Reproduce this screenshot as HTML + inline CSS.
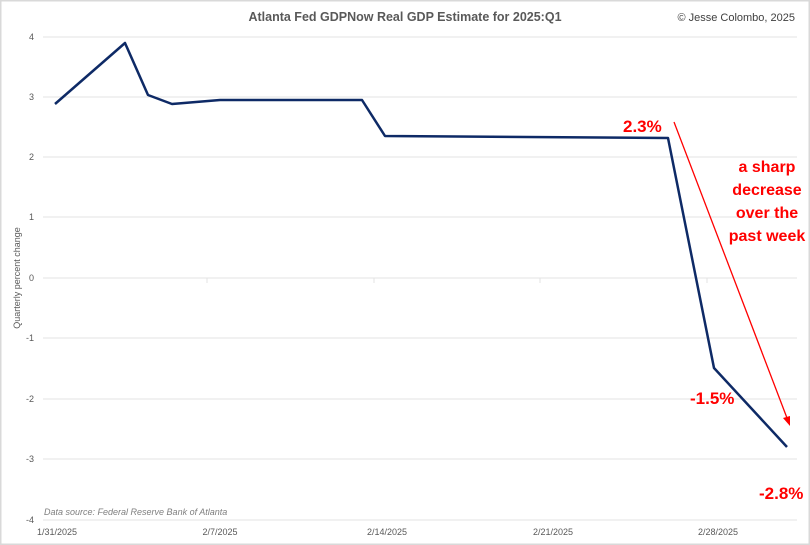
<!DOCTYPE html>
<html><head><style>
body{margin:0;background:#fff;}
svg{display:block;font-family:"Liberation Sans",sans-serif;}
</style></head><body>
<svg width="810" height="545" viewBox="0 0 810 545">
<rect x="0.5" y="0.5" width="809" height="544" fill="#fff" stroke="#d9d9d9" stroke-width="2"/>
<text x="405" y="21" text-anchor="middle" font-size="12.5" font-weight="bold" fill="#595959">Atlanta Fed GDPNow Real GDP Estimate for 2025:Q1</text>
<text x="795" y="21" text-anchor="end" font-size="11" fill="#404040">© Jesse Colombo, 2025</text>
<g stroke="#e3e3e3" stroke-width="1">
<line x1="43" y1="37" x2="797" y2="37"/><line x1="43" y1="97" x2="797" y2="97"/>
<line x1="43" y1="157" x2="797" y2="157"/><line x1="43" y1="217" x2="797" y2="217"/>
<line x1="43" y1="278" x2="797" y2="278"/><line x1="43" y1="338" x2="797" y2="338"/>
<line x1="43" y1="399" x2="797" y2="399"/><line x1="43" y1="459" x2="797" y2="459"/>
<line x1="43" y1="520" x2="797" y2="520"/>
<line x1="207" y1="278" x2="207" y2="283"/><line x1="374" y1="278" x2="374" y2="283"/>
<line x1="540" y1="278" x2="540" y2="283"/><line x1="707" y1="278" x2="707" y2="283"/>
</g>
<g font-size="9" fill="#595959" text-anchor="end">
<text x="34" y="40">4</text><text x="34" y="100">3</text><text x="34" y="160">2</text>
<text x="34" y="220">1</text><text x="34" y="281">0</text><text x="34" y="341">-1</text>
<text x="34" y="402">-2</text><text x="34" y="462">-3</text><text x="34" y="523">-4</text>
</g>
<g font-size="9" fill="#595959" text-anchor="middle">
<text x="57" y="535">1/31/2025</text><text x="220" y="535">2/7/2025</text>
<text x="387" y="535">2/14/2025</text><text x="553" y="535">2/21/2025</text>
<text x="718" y="535">2/28/2025</text>
</g>
<text transform="translate(20,278) rotate(-90)" text-anchor="middle" font-size="9" fill="#595959">Quarterly percent change</text>
<text x="44" y="515" font-size="9" font-style="italic" fill="#7f7f7f">Data source: Federal Reserve Bank of Atlanta</text>
<polyline fill="none" stroke="#0e2a66" stroke-width="2.5" stroke-linejoin="round" points="55,104 125,43 148,95 172,104 220,100 362,100 385,136 668,138 714,368 787,447"/>
<g fill="#ff0000" font-weight="bold">
<text x="623" y="132" font-size="17">2.3%</text>
<text x="690" y="404" font-size="17">-1.5%</text>
<text x="759" y="499" font-size="17">-2.8%</text>
<text x="767" y="172" font-size="16" text-anchor="middle">a sharp</text>
<text x="767" y="195" font-size="16" text-anchor="middle">decrease</text>
<text x="767" y="218" font-size="16" text-anchor="middle">over the</text>
<text x="767" y="241" font-size="16" text-anchor="middle">past week</text>
</g>
<line x1="674" y1="122" x2="787" y2="418" stroke="#ff0000" stroke-width="1.3"/>
<polygon points="790,426 783,418 790,416" fill="#ff0000"/>
</svg>
</body></html>
